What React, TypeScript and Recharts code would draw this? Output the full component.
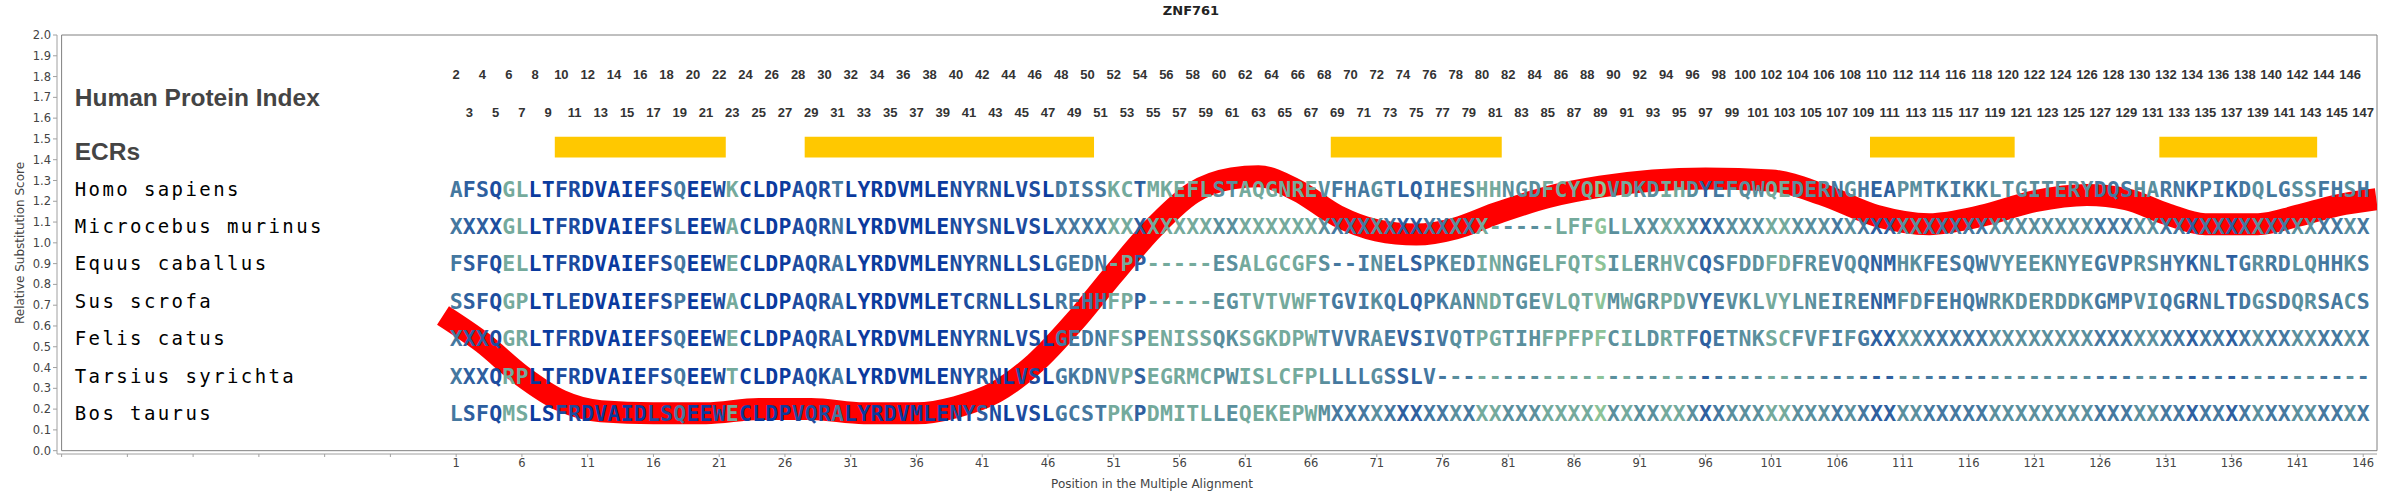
import { ComposedChart, XAxis, YAxis, Line, Scatter, ReferenceArea } from "recharts";

const speciesNames = [
  "Homo sapiens",
  "Microcebus murinus",
  "Equus caballus",
  "Sus scrofa",
  "Felis catus",
  "Tarsius syrichta",
  "Bos taurus",
];
const speciesY = [1.26, 1.08, 0.9, 0.72, 0.54, 0.36, 0.18];

// alignment, written in blocks of 10 columns
const sequences = [
  ["AFSQGLLTFR", "DVAIEFSQEE", "WKCLDPAQRT", "LYRDVMLENY", "RNLVSLDISS", "KCTMKEFLST", "AQGNREVFHA", "GTLQIHESHH", "NGDFCYQDVD", "KDIHDYEFQW", "QEDERNGHEA", "PMTKIKKLTG", "ITERYDQSHA", "RNKPIKDQLG", "SSFHSH"],
  ["XXXXGLLTFR", "DVAIEFSLEE", "WACLDPAQRN", "LYRDVMLENY", "SNLVSLXXXX", "XXXXXXXXXX", "XXXXXXXXXX", "XXXXXXXXX-", "----LFFGLL", "XXXXXXXXXX", "XXXXXXXXXX", "XXXXXXXXXX", "XXXXXXXXXX", "XXXXXXXXXX", "XXXXXX"],
  ["FSFQELLTFR", "DVAIEFSQEE", "WECLDPAQRA", "LYRDVMLENY", "RNLLSLGEDN", "-PP-----ES", "ALGCGFS--I", "NELSPKEDIN", "NGELFQTSIL", "ERHVCQSFDD", "FDFREVQQNM", "HKFESQWVYE", "EKNYEGVPRS", "HYKNLTGRRD", "LQHHKS"],
  ["SSFQGPLTLE", "DVAIEFSPEE", "WACLDPAQRA", "LYRDVMLETC", "RNLLSLREHH", "FPP-----EG", "TVTVWFTGVI", "KQLQPKANND", "TGEVLQTVMW", "GRPDVYEVKL", "VYLNEIRENM", "FDFEHQWRKD", "ERDDKGMPVI", "QGRNLTDGSD", "QRSACS"],
  ["XXXQGRLTFR", "DVAIEFSQEE", "WECLDPAQRA", "LYRDVMLENY", "RNLVSLGEDN", "FSPENISSQK", "SGKDPWTVVR", "AEVSIVQTPG", "TIHFPFPFCI", "LDRTFQETNK", "SCFVFIFGXX", "XXXXXXXXXX", "XXXXXXXXXX", "XXXXXXXXXX", "XXXXXX"],
  ["XXXQRPLTFR", "DVAIEFSQEE", "WTCLDPAQKA", "LYRDVMLENY", "RNLVSLGKDN", "VPSEGRMCPW", "ISLCFPLLLL", "GSSLV-----", "----------", "----------", "----------", "----------", "----------", "----------", "------"],
  ["LSFQMSLSFR", "DVAIDLSQEE", "WECLDPVQRA", "LYRDVMLENY", "SNLVSLGCST", "PKPDMITLLE", "QEKEPWMXXX", "XXXXXXXXXX", "XXXXXXXXXX", "XXXXXXXXXX", "XXXXXXXXXX", "XXXXXXXXXX", "XXXXXXXXXX", "XXXXXXXXXX", "XXXXXX"],
].map((blocks) => blocks.join(""));

// colour class of each alignment column (0 = conserved blue ... 6 = light green)
const columnShade = [
  3, 2, 2, 1, 5, 5, 0, 0, 1, 1,
  0, 0, 0, 0, 0, 1, 1, 3, 0, 0,
  1, 5, 0, 0, 0, 0, 1, 1, 1, 3,
  0, 0, 0, 0, 0, 0, 0, 0, 1, 1,
  2, 1, 0, 1, 1, 0, 3, 3, 3, 3,
  5, 5, 2, 5, 5, 5, 5, 5, 4, 4,
  5, 5, 5, 5, 5, 5, 4, 3, 3, 3,
  4, 3, 2, 2, 3, 3, 4, 3, 5, 5,
  4, 4, 4, 5, 5, 5, 5, 6, 4, 5,
  4, 4, 5, 5, 4, 2, 3, 4, 4, 4,
  5, 5, 4, 4, 4, 3, 4, 3, 2, 2,
  4, 4, 3, 3, 3, 3, 3, 4, 4, 4,
  4, 4, 4, 4, 4, 3, 3, 3, 4, 4,
  3, 3, 2, 3, 3, 2, 3, 4, 3, 3,
  4, 4, 3, 3, 4, 3,
];
const shadeColors = ["#0a3a9e", "#1c4c9f", "#2e5f9f", "#45789f", "#5a8f9d", "#74aa9c", "#8cc397"];

const ecrRanges = [
  [9, 21],
  [28, 49],
  [68, 80],
  [109, 119],
  [131, 142],
];

const scorePos = [0, 3, 6, 9, 12, 16, 20, 24, 28, 32, 36, 39, 42, 45, 48, 51, 54, 57, 60, 62, 65, 68, 71, 74, 77, 80, 84, 88, 92, 96, 101, 105, 109, 113, 117, 121, 125, 128, 131, 134, 138, 141, 144, 147];
const scoreVal = [0.65, 0.52, 0.36, 0.24, 0.19, 0.18, 0.18, 0.2, 0.2, 0.18, 0.18, 0.21, 0.28, 0.42, 0.62, 0.85, 1.07, 1.24, 1.31, 1.32, 1.25, 1.13, 1.06, 1.04, 1.07, 1.14, 1.22, 1.27, 1.3, 1.31, 1.3, 1.23, 1.13, 1.09, 1.13, 1.2, 1.23, 1.21, 1.14, 1.09, 1.09, 1.13, 1.18, 1.21];

const xTicks = [-29, -24, -19, -14, -9, -4, 1, 6, 11, 16, 21, 26, 31, 36, 41, 46, 51, 56, 61, 66, 71, 76, 81, 86, 91, 96, 101, 106, 111, 116, 121, 126, 131, 136, 141, 146];
const yTicks = [0, 0.1, 0.2, 0.3, 0.4, 0.5, 0.6, 0.7, 0.8, 0.9, 1.0, 1.1, 1.2, 1.3, 1.4, 1.5, 1.6, 1.7, 1.8, 1.9, 2.0];

const rowTitles = [
  { text: "Human Protein Index", y: 1.7 },
  { text: "ECRs", y: 1.44 },
];

const scoreData = scorePos.map((x, i) => ({ x, score: scoreVal[i] }));

const residueData = sequences.flatMap((seq, r) =>
  seq.split("").map((ch, i) => ({ x: i + 1, y: speciesY[r], ch, shade: columnShade[i] }))
);

const indexData = sequences[0].split("").map((_, i) => ({
  x: i + 1,
  y: i % 2 === 0 ? 1.81 : 1.63,
  label: String(i + 2),
}));

const labelData = [
  ...rowTitles.map((t) => ({ x: -28, y: t.y, text: t.text, kind: "title" })),
  ...speciesNames.map((name, i) => ({ x: -28, y: speciesY[i], text: name, kind: "species" })),
];

const renderResidue = (p: any) => (
  <text
    x={p.cx}
    y={p.cy}
    dy="0.36em"
    textAnchor="middle"
    fontFamily="'DejaVu Sans Mono', monospace"
    fontWeight="bold"
    fontSize={21.5}
    fill={shadeColors[p.payload.shade]}
  >
    {p.payload.ch}
  </text>
);

const renderIndex = (p: any) => (
  <text
    x={p.cx}
    y={p.cy}
    dy="0.36em"
    textAnchor="middle"
    fontFamily="'Liberation Sans', Arial, sans-serif"
    fontWeight="bold"
    fontSize={13}
    fill="#333"
  >
    {p.payload.label}
  </text>
);

const renderLabel = (p: any) =>
  p.payload.kind === "title" ? (
    <text
      x={p.cx}
      y={p.cy}
      dy="0.36em"
      fontFamily="'Liberation Sans', Arial, sans-serif"
      fontWeight="bold"
      fontSize={24.5}
      fill="#444"
    >
      {p.payload.text}
    </text>
  ) : (
    <text
      x={p.cx}
      y={p.cy}
      dy="0.36em"
      fontFamily="'DejaVu Sans Mono', monospace"
      fontSize={19}
      letterSpacing={2.4}
      fill="#000"
    >
      {p.payload.text}
    </text>
  );

const tickStyle = { fontSize: 11.5, fill: "#444", fontFamily: "'DejaVu Sans', sans-serif" };

export default function App() {
  return (
    <div style={{ position: "absolute", left: 0, top: 0, width: 2388, height: 500, background: "#fff" }}>
      <div
        style={{
          position: "absolute",
          top: 3,
          left: 0,
          width: 2382,
          textAlign: "center",
          fontFamily: "'DejaVu Sans', sans-serif",
          fontWeight: "bold",
          fontSize: 13,
          color: "#222",
        }}
      >
        ZNF761
      </div>
      <div
        style={{
          position: "absolute",
          left: 20,
          top: 243,
          transform: "translate(-50%, -50%) rotate(-90deg)",
          whiteSpace: "nowrap",
          fontFamily: "'DejaVu Sans', sans-serif",
          fontSize: 12,
          color: "#444",
        }}
      >
        Relative Substitution Score
      </div>
      <div
        style={{
          position: "absolute",
          left: 1152,
          top: 484,
          transform: "translate(-50%, -50%)",
          whiteSpace: "nowrap",
          fontFamily: "'DejaVu Sans', sans-serif",
          fontSize: 12,
          color: "#444",
        }}
      >
        Position in the Multiple Alignment
      </div>
      <ComposedChart width={2388} height={500} margin={{ top: 35, right: 11, bottom: 0, left: 0 }}>
        <XAxis
          type="number"
          dataKey="x"
          domain={[-29.35, 147.05]}
          allowDataOverflow
          ticks={xTicks}
          interval={0}
          tickFormatter={(v: number) => (v >= 1 ? String(v) : "")}
          height={46}
          tickSize={3}
          axisLine={{ stroke: "#a0a0a0" }}
          tickLine={{ stroke: "#a0a0a0" }}
          tick={tickStyle}
        />
        <YAxis
          type="number"
          domain={[-0.016, 2]}
          allowDataOverflow
          ticks={yTicks}
          interval={0}
          tickFormatter={(v: number) => v.toFixed(1)}
          width={57}
          tickSize={4}
          axisLine={{ stroke: "#a0a0a0" }}
          tickLine={{ stroke: "#a0a0a0" }}
          tick={tickStyle}
        />
        <ReferenceArea
          x1={-29}
          x2={147.05}
          y1={0}
          y2={2}
          fill="none"
          stroke="#808080"
          ifOverflow="visible"
        />
        {ecrRanges.map(([a, b]) => (
          <ReferenceArea
            key={a}
            x1={a - 0.5}
            x2={b + 0.5}
            y1={1.41}
            y2={1.51}
            fill="#ffc800"
            fillOpacity={1}
            stroke="none"
          />
        ))}
        <Line
          data={scoreData}
          dataKey="score"
          type="monotone"
          stroke="#ff0000"
          strokeWidth={22}
          dot={false}
          activeDot={false}
          isAnimationActive={false}
        />
        <Scatter data={indexData} dataKey="y" shape={renderIndex} isAnimationActive={false} />
        <Scatter data={labelData} dataKey="y" shape={renderLabel} isAnimationActive={false} />
        <Scatter data={residueData} dataKey="y" shape={renderResidue} isAnimationActive={false} />
      </ComposedChart>
    </div>
  );
}
